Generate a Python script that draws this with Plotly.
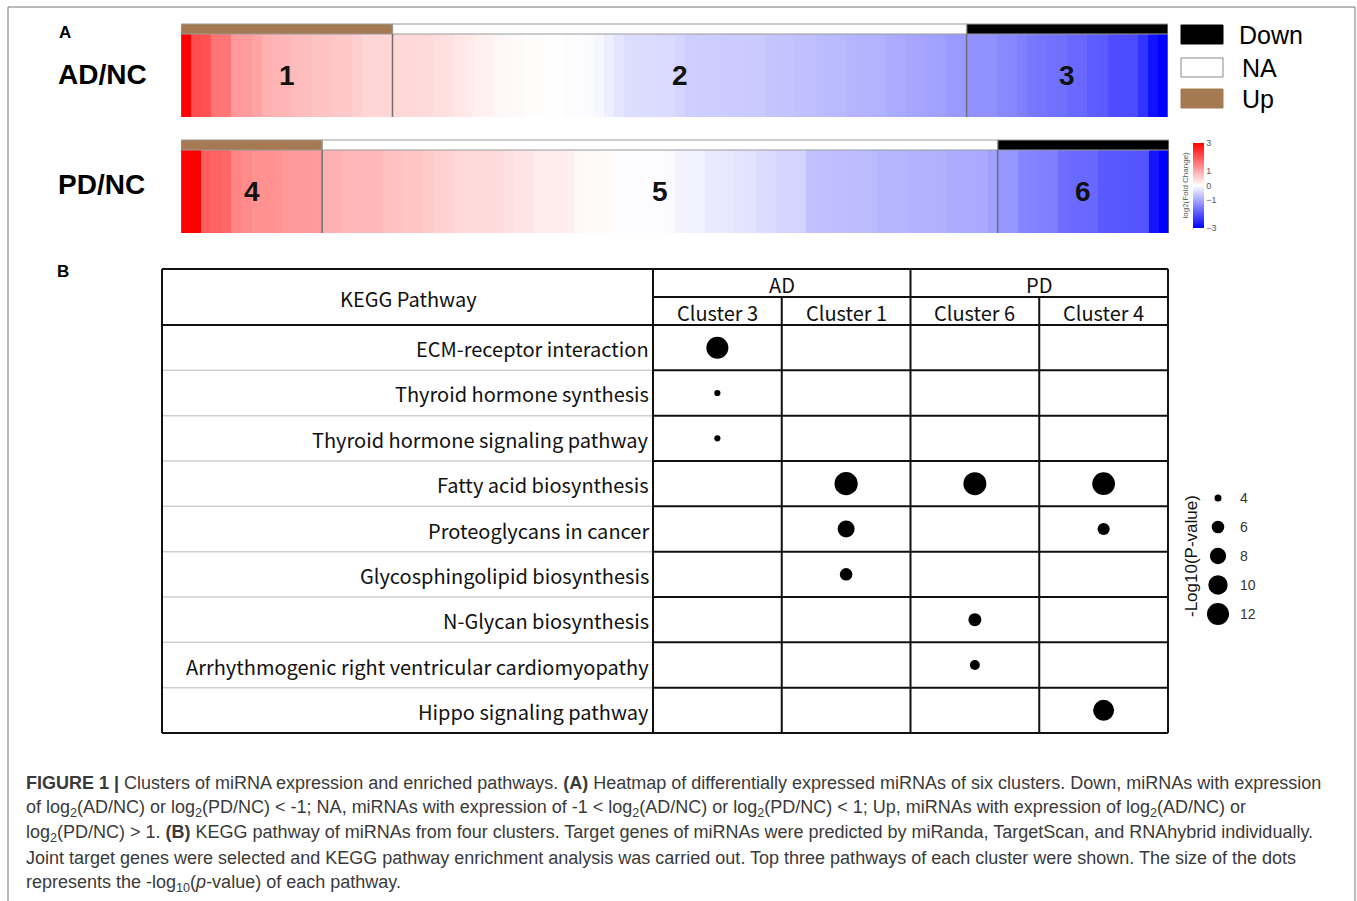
import math
import plotly.graph_objects as go

W, H = 1357, 901

# ---------------- Panel A data: log2 fold change per miRNA, grouped by cluster ----
ad_cluster1 = [3.0, 2.1, 2.05, 1.62, 1.6, 1.2, 1.18, 1.08, 0.93, 0.87, 0.86, 0.79, 0.78,
               0.72, 0.71, 0.65, 0.64, 0.56, 0.49, 0.48, 0.48]
ad_cluster2 = [0.46, 0.46, 0.45, 0.44, 0.39, 0.37, 0.28, 0.26, 0.18, 0.16, 0.1, 0.08, 0.07,
               0.04, 0.03, 0.02, 0.01, -0.03, -0.04, -0.05, -0.1, -0.2, -0.32, -0.4, -0.41,
               -0.41, -0.42, -0.43, -0.5, -0.58, -0.59, -0.6, -0.6, -0.61, -0.61, -0.62,
               -0.62, -0.69, -0.7, -0.7, -0.74, -0.75, -0.8, -0.81, -0.82, -0.88, -0.9,
               -0.9, -0.91, -0.98, -1.0, -1.05, -1.06, -1.1, -1.12, -1.18, -1.2]
ad_cluster3 = [-1.29, -1.3, -1.31, -1.4, -1.41, -1.5, -1.6, -1.62, -1.67, -1.68, -1.76,
               -1.78, -1.9, -1.93, -2.1, -2.1, -2.12, -2.4, -2.8, -3.0]

pd_cluster4 = [3.0, 3.0, 1.9, 1.85, 1.8, 1.43, 1.38, 1.3, 1.3, 1.28, 1.2, 1.2, 1.19, 1.18]
pd_cluster5 = [0.93, 0.92, 0.85, 0.84, 0.84, 0.83, 0.74, 0.73, 0.69, 0.68, 0.62, 0.55, 0.54,
               0.45, 0.44, 0.44, 0.43, 0.42, 0.36, 0.3, 0.29, 0.22, 0.22, 0.21, 0.2, 0.08,
               0.07, 0.06, 0.05, -0.02, -0.02, -0.02, -0.03, -0.03, -0.06, -0.14, -0.15,
               -0.16, -0.26, -0.27, -0.28, -0.32, -0.33, -0.41, -0.42, -0.5, -0.5, -0.51,
               -0.73, -0.74, -0.75, -0.78, -0.79, -0.8, -0.8, -0.86, -0.87, -0.88, -0.91,
               -0.92, -0.92, -0.93, -0.99, -1.0, -1.0, -1.01, -1.12]
pd_cluster6 = [-1.22, -1.24, -1.44, -1.46, -1.48, -1.5, -1.72, -1.75, -1.76, -1.78, -1.95,
               -1.96, -1.98, -2.0, -2.01, -2.76, -3.0]

ad_clusters = [("1", "Up", ad_cluster1), ("2", "NA", ad_cluster2), ("3", "Down", ad_cluster3)]
pd_clusters = [("4", "Up", pd_cluster4), ("5", "NA", pd_cluster5), ("6", "Down", pd_cluster6)]

status_levels = ["Down", "NA", "Up"]
status_colors = {"Down": "#000000", "NA": "#ffffff", "Up": "#a57a52"}

colorbar_ticks = [3, 1, 0, -1, -3]

# ---------------- Panel B data: KEGG enrichment --------------------------------
pathways = ["ECM-receptor interaction", "Thyroid hormone synthesis",
            "Thyroid hormone signaling pathway", "Fatty acid biosynthesis",
            "Proteoglycans in cancer", "Glycosphingolipid biosynthesis",
            "N-Glycan biosynthesis", "Arrhythmogenic right ventricular cardiomyopathy",
            "Hippo signaling pathway"]
groups = [("AD", ["Cluster 3", "Cluster 1"]), ("PD", ["Cluster 6", "Cluster 4"])]
clusters = [c for _, cs in groups for c in cs]

dot_pathway = ["ECM-receptor interaction", "Thyroid hormone synthesis",
               "Thyroid hormone signaling pathway", "Fatty acid biosynthesis",
               "Fatty acid biosynthesis", "Fatty acid biosynthesis",
               "Proteoglycans in cancer", "Proteoglycans in cancer",
               "Glycosphingolipid biosynthesis", "N-Glycan biosynthesis",
               "Arrhythmogenic right ventricular cardiomyopathy", "Hippo signaling pathway"]
dot_cluster = ["Cluster 3", "Cluster 3", "Cluster 3", "Cluster 1", "Cluster 6", "Cluster 4",
               "Cluster 1", "Cluster 4", "Cluster 1", "Cluster 6", "Cluster 6", "Cluster 4"]
dot_neglogp = [12.0, 3.8, 3.8, 13.0, 12.8, 12.6, 8.4, 5.8, 6.0, 6.2, 4.9, 11.2]

size_legend_values = [4, 6, 8, 10, 12]

# ---------------- helpers -----------------------------------------------------
def px_x(x):
    return x / W


def px_y(y):
    return 1 - y / H


def xdom(l, r):
    return [l / W, r / W]


def ydom(t, b):
    return [1 - b / H, 1 - t / H]


def dot_size(v, vmin=4.0, vmax=12.0, dmin=7.0, dmax=22.0):
    # area scales linearly with -log10(p)
    a = dmin ** 2 + (dmax ** 2 - dmin ** 2) * (v - vmin) / (vmax - vmin)
    return math.sqrt(max(a, 4.0))


def label(text, x, y, font, xanchor="center", yanchor="middle", **kw):
    """Text placed in pixel coordinates of the page."""
    return dict(text=text, x=px_x(x), y=px_y(y), xref="paper", yref="paper",
                xanchor=xanchor, yanchor=yanchor, showarrow=False, font=font, **kw)


BOLD = "Liberation Sans"
TBL_FONT = "Noto Sans CJK SC"

fig = go.Figure()
shapes = []
annotations = []

# ---------------- Panel A: heatmap rows --------------------------------------
rows = [
    # (clusters, body axis, annotation axis, x px, body y px, annotation y px, label, label y)
    (ad_clusters, "", "2", (181, 1168), (34, 117), (24, 34), "AD/NC", 74),
    (pd_clusters, "3", "4", (181, 1169), (150, 233), (140, 150), "PD/NC", 184),
]
layout_axes = {}
for ri, (cl, bi, ai, (xl, xr), (bt, bb), (at, ab), row_label, ly) in enumerate(rows):
    values = [v for _, _, vals in cl for v in vals]
    codes = [status_levels.index(st) for _, st, vals in cl for _ in vals]
    n = len(values)
    xs = list(range(n))
    fig.add_trace(go.Heatmap(
        z=[values], x=xs, y=[0], zmin=-3, zmax=3,
        colorscale=[[0, "#0000ff"], [0.5, "#ffffff"], [1, "#ff0000"]],
        showscale=(ri == 0),
        colorbar=dict(
            x=px_x(1193), xanchor="left", y=px_y(185.5), yanchor="middle",
            len=85, lenmode="pixels", thickness=11, thicknessmode="pixels",
            xpad=0, ypad=0, outlinewidth=0,
            tickvals=colorbar_ticks,
            ticktext=[str(t).replace("-", "\u2212") for t in colorbar_ticks],
            ticks="", tickfont=dict(family="Liberation Sans", size=9, color="#555555"),
        ),
        xaxis="x" + bi, yaxis="y" + bi, hoverinfo="skip",
    ))
    fig.add_trace(go.Heatmap(
        z=[codes], x=xs, y=[0], zmin=0, zmax=2,
        colorscale=[[0, status_colors["Down"]], [0.5, status_colors["NA"]],
                    [1, status_colors["Up"]]],
        showscale=False, xaxis="x" + ai, yaxis="y" + ai, hoverinfo="skip",
    ))
    hidden = dict(visible=False, fixedrange=True)
    layout_axes["xaxis" + bi] = dict(domain=xdom(xl, xr), range=[-0.5, n - 0.5],
                                     anchor="y" + bi, **hidden)
    layout_axes["yaxis" + bi] = dict(domain=ydom(bt, bb), range=[-0.5, 0.5],
                                     anchor="x" + bi, **hidden)
    layout_axes["xaxis" + ai] = dict(domain=xdom(xl, xr), range=[-0.5, n - 0.5],
                                     anchor="y" + ai, **hidden)
    layout_axes["yaxis" + ai] = dict(domain=ydom(at, ab), range=[-0.5, 0.5],
                                     anchor="x" + ai, **hidden)

    # cluster outlines, separators and numbers
    start = 0
    bounds = [0]
    for name, st, vals in cl:
        end = start + len(vals)
        shapes.append(dict(type="rect", xref="x" + ai, yref="y" + ai + " domain",
                           x0=start - 0.5, x1=end - 0.5, y0=0, y1=1,
                           line=dict(color="#9a9a9a", width=1.2)))
        annotations.append(dict(text=f"<b>{name}</b>", x=(start + end - 1) / 2, y=0,
                                xref="x" + bi, yref="y" + bi, showarrow=False,
                                xanchor="center", yanchor="middle",
                                font=dict(family=BOLD, size=28, color="#111111")))
        start = end
        bounds.append(end)
    for b in bounds:
        shapes.append(dict(type="line", xref="x" + bi, yref="y" + bi + " domain",
                           x0=b - 0.5, x1=b - 0.5, y0=0, y1=1,
                           line=dict(color="#6f6f6f", width=1.5)))
    annotations.append(label(f"<b>{row_label}</b>", 56, ly,
                             dict(family=BOLD, size=28, color="#000000"), xanchor="left"))

# colour-bar title
annotations.append(label("log2(Fold Change)", 1185, 185.5,
                         dict(family="Liberation Sans", size=8, color="#555555"),
                         textangle=-90))

# status legend
leg_tops = [25, 58, 89]
for lvl, top in zip(status_levels, leg_tops):
    shapes.append(dict(type="rect", xref="paper", yref="paper",
                       x0=px_x(1181), x1=px_x(1223), y0=px_y(top), y1=px_y(top + 19),
                       fillcolor=status_colors[lvl],
                       line=dict(color="#888888" if lvl == "NA" else status_colors[lvl],
                                 width=1)))
    annotations.append(label(lvl, 1237 if lvl == "Down" else 1240, top + 10,
                             dict(family="Liberation Sans", size=25, color="#000000"),
                             xanchor="left"))

# panel letters
for letter, lx, ly in (("A", 57, 33), ("B", 55, 272)):
    annotations.append(label(f"<b>{letter}</b>", lx, ly,
                             dict(family=BOLD, size=17, color="#000000"), xanchor="left"))

# ---------------- Panel B: KEGG table ----------------------------------------
TX0, TX1 = 162, 1168      # table outer left / right
CX0 = 653                 # start of cluster columns
TY0, TY_MID, TY_HDR, TY1 = 269, 297, 325, 733
ncol, nrow = len(clusters), len(pathways)
col_w = (TX1 - CX0) / ncol
row_h = (TY1 - TY_HDR) / nrow

dx = [clusters.index(c) + 0.5 for c in dot_cluster]
dy = [pathways.index(p) + 0.5 for p in dot_pathway]
fig.add_trace(go.Scatter(
    x=dx, y=dy, mode="markers", xaxis="x5", yaxis="y5", hoverinfo="skip",
    marker=dict(size=[dot_size(v) for v in dot_neglogp], color="#000000", opacity=1,
                line=dict(width=0)),
    showlegend=False,
))
layout_axes["xaxis5"] = dict(domain=xdom(CX0, TX1), range=[0, ncol], anchor="y5",
                             visible=False, fixedrange=True)
layout_axes["yaxis5"] = dict(domain=ydom(TY_HDR, TY1), range=[nrow, 0], anchor="x5",
                             visible=False, fixedrange=True)

BLACK = dict(color="#111111", width=2)
GREY = dict(color="#cfcfcf", width=1.5)


def hline(x0, x1, y, line):
    shapes.append(dict(type="line", xref="paper", yref="paper",
                       x0=px_x(x0), x1=px_x(x1), y0=px_y(y), y1=px_y(y), line=line))


def vline(x, y0, y1, line):
    shapes.append(dict(type="line", xref="paper", yref="paper",
                       x0=px_x(x), x1=px_x(x), y0=px_y(y0), y1=px_y(y1), line=line))


hline(TX0, TX1, TY0, BLACK)
hline(CX0, TX1, TY_MID, BLACK)
for k in range(nrow + 1):
    y = TY_HDR + k * row_h
    if k in (0, nrow):
        hline(TX0, TX1, y, BLACK)
    else:
        hline(TX0, CX0, y, GREY)
        hline(CX0, TX1, y, BLACK)
vline(TX0, TY0, TY1, BLACK)
for k in range(ncol + 1):
    x = CX0 + k * col_w
    vline(x, TY0 if k % 2 == 0 else TY_MID, TY1, BLACK)

tfont = dict(family=TBL_FONT, size=20, color="#111111")
annotations.append(label("KEGG Pathway", (TX0 + CX0) / 2 + 1, (TY0 + TY_HDR) / 2 + 1, tfont))
ci = 0
for g, cs in groups:
    annotations.append(label(g, CX0 + (ci + len(cs) / 2) * col_w, (TY0 + TY_MID) / 2 + 1,
                             tfont))
    ci += len(cs)
for i, c in enumerate(clusters):
    annotations.append(label(c, CX0 + (i + 0.5) * col_w, (TY_MID + TY_HDR) / 2 + 1, tfont))
for i, p in enumerate(pathways):
    annotations.append(label(p, CX0 - 2, TY_HDR + (i + 0.5) * row_h + 1, tfont,
                             xanchor="right"))

# size legend
fig.add_trace(go.Scatter(
    x=[0] * len(size_legend_values), y=size_legend_values, mode="markers",
    xaxis="x6", yaxis="y6", hoverinfo="skip", showlegend=False,
    marker=dict(size=[dot_size(v) for v in size_legend_values], color="#000000",
                opacity=1, line=dict(width=0)),
))
layout_axes["xaxis6"] = dict(domain=xdom(1197, 1239), range=[-1, 1], anchor="y6",
                             visible=False, fixedrange=True)
layout_axes["yaxis6"] = dict(domain=ydom(484, 628), range=[12.97, 3.034], anchor="x6",
                             side="right", showgrid=False, zeroline=False, showline=False,
                             ticks="", tickvals=size_legend_values,
                             ticktext=[str(v) for v in size_legend_values],
                             tickfont=dict(family="Liberation Sans", size=14,
                                           color="#333333"),
                             fixedrange=True)
annotations.append(label("-Log10(P-value)", 1191, 556,
                         dict(family="Liberation Sans", size=17, color="#111111"),
                         textangle=-90))

# ---------------- caption ----------------------------------------------------
caption_lines = [
    "<b>FIGURE 1 |</b> Clusters of miRNA expression and enriched pathways. <b>(A)</b> "
    "Heatmap of differentially expressed miRNAs of six clusters. Down, miRNAs with expression",
    "of log<sub>2</sub>(AD/NC) or log<sub>2</sub>(PD/NC) &lt; -1; NA, miRNAs with expression "
    "of -1 &lt; log<sub>2</sub>(AD/NC) or log<sub>2</sub>(PD/NC) &lt; 1; Up, miRNAs with "
    "expression of log<sub>2</sub>(AD/NC) or",
    "log<sub>2</sub>(PD/NC) &gt; 1. <b>(B)</b> KEGG pathway of miRNAs from four clusters. "
    "Target genes of miRNAs were predicted by miRanda, TargetScan, and RNAhybrid individually.",
    "Joint target genes were selected and KEGG pathway enrichment analysis was carried out. "
    "Top three pathways of each cluster were shown. The size of the dots",
    "represents the -log<sub>10</sub>(<i>p</i>-value) of each pathway.",
]
for i, line in enumerate(caption_lines):
    annotations.append(label(line, 24, 783 + 25 * i,
                             dict(family="Liberation Sans", size=18, color="#3a3a3a"),
                             xanchor="left"))

# outer frame
frame = dict(color="#777777", width=1)
hline(8, 1355, 7, frame)
vline(8, 7, 901, frame)
vline(1355, 7, 901, frame)

fig.update_layout(
    width=W, height=H, margin=dict(l=0, r=0, t=0, b=0),
    paper_bgcolor="#ffffff", plot_bgcolor="#ffffff",
    showlegend=False, shapes=shapes, annotations=annotations, **layout_axes,
)
fig.write_html("out.html")
